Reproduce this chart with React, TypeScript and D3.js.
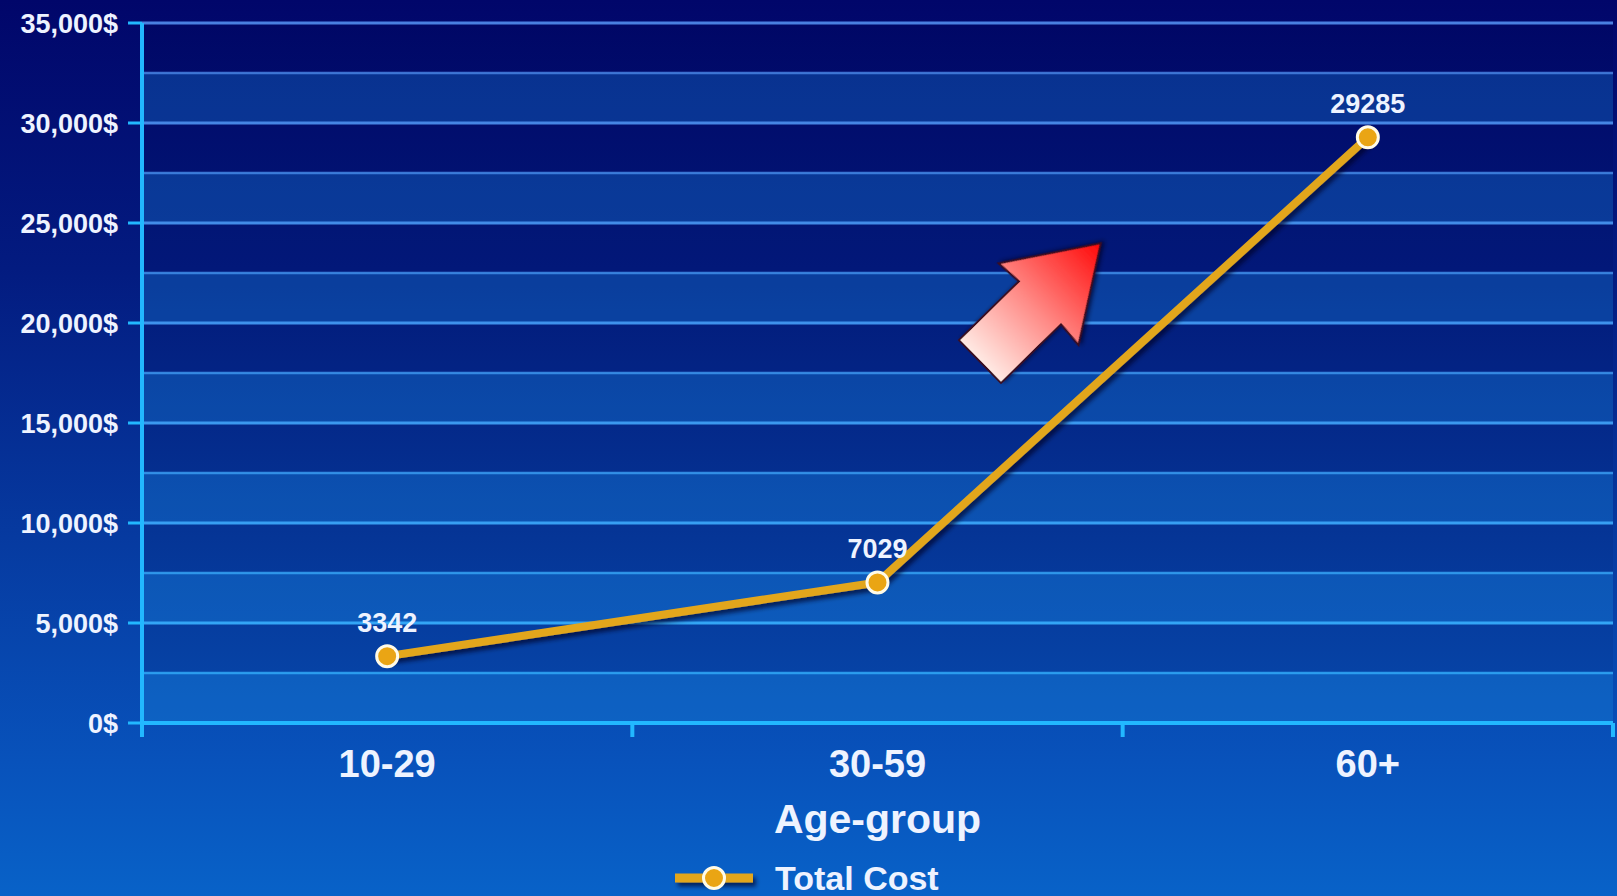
import React from "react";
import * as d3 from "d3";

const categories: string[] = ["10-29", "30-59", "60+"];
const totalCost: number[] = [3342, 7029, 29285];
const yTicks: number[] = [0, 5000, 10000, 15000, 20000, 25000, 30000, 35000];
const seriesName = "Total Cost";
const xTitle = "Age-group";

const W = 1617;
const H = 896;
const M = { left: 142, right: 1613, top: 23, bottom: 723 };
const FONT = "'Liberation Sans', Arial, Helvetica, sans-serif";

export default function App() {
  const x = d3.scaleBand<string>().domain(categories).range([M.left, M.right]).padding(0);
  const y = d3.scaleLinear().domain([0, 35000]).range([M.bottom, M.top]);
  const cx = (c: string) => (x(c) as number) + x.bandwidth() / 2;

  const minorTicks = d3.range(0, 35000 + 1, 2500);
  const bands = d3.range(0, 35000, 2500);

  const pts: [number, number][] = categories.map((c, i) => [cx(c), y(totalCost[i])]);
  const lineGen = d3.line<[number, number]>().x((d) => d[0]).y((d) => d[1]);

  const fmt = d3.format(",");
  const boundaries = [...categories.map((c) => x(c) as number), M.right];

  // decorative arrow (local shape pointing along +x)
  const arrowPath = "M0,-30 L84,-30 L82,-57 L169,0 L82,57 L84,30 L0,30 Z";
  const arrowAnchorX = x(categories[1])! + x.bandwidth() * 0.709;
  const arrowAnchorY = y(18075);

  const legendY = 878;
  const legendX0 = 675;
  const legendX1 = 753;

  return (
    <svg width={W} height={H} style={{ display: "block", position: "absolute", left: 0, top: 0 }}>
      <defs>
        <linearGradient id="bg" x1="0" y1="0" x2="0" y2={H} gradientUnits="userSpaceOnUse">
          <stop offset="0" stopColor="#01066a" />
          <stop offset="0.3" stopColor="#031b80" />
          <stop offset="0.6" stopColor="#063aa0" />
          <stop offset="0.85" stopColor="#0852bb" />
          <stop offset="1" stopColor="#0862c8" />
        </linearGradient>
        <linearGradient id="grid" x1="0" y1="0" x2="0" y2={H} gradientUnits="userSpaceOnUse">
          <stop offset="0" stopColor="#4a7ee0" />
          <stop offset="0.5" stopColor="#3a9af0" />
          <stop offset="1" stopColor="#28b8ff" />
        </linearGradient>
        <linearGradient id="arrowGrad" x1="0" y1="0" x2="1" y2="0">
          <stop offset="0" stopColor="#ffeae4" />
          <stop offset="0.45" stopColor="#ff8a86" />
          <stop offset="1" stopColor="#ff0808" />
        </linearGradient>
        <filter id="shadow" filterUnits="userSpaceOnUse" x={-W} y={-H} width={3 * W} height={3 * H}>
          <feDropShadow dx="3" dy="4" stdDeviation="2" floodColor="#000020" floodOpacity="0.65" />
        </filter>
        <filter id="arrowShadow" x="-30%" y="-30%" width="160%" height="160%">
          <feDropShadow dx="3" dy="1" stdDeviation="2" floodColor="#000020" floodOpacity="0.7" />
        </filter>
      </defs>

      <rect x={0} y={0} width={W} height={H} fill="url(#bg)" />

      {/* alternating bands */}
      {bands.map((v, i) => (
        <rect
          key={"b" + v}
          x={M.left}
          y={y(v + 2500)}
          width={M.right - M.left}
          height={y(v) - y(v + 2500)}
          fill={i % 2 === 0 ? "rgba(30,150,230,0.28)" : "rgba(0,0,40,0.08)"}
        />
      ))}

      {/* gridlines */}
      {minorTicks.map((v) => (
        <line
          key={"g" + v}
          x1={M.left}
          x2={M.right}
          y1={y(v)}
          y2={y(v)}
          stroke="url(#grid)"
          strokeWidth={v % 5000 === 0 ? 3 : 2.5}
          opacity={v % 5000 === 0 ? 1 : 0.85}
        />
      ))}

      {/* axes */}
      <line x1={M.left} x2={M.left} y1={M.top} y2={M.bottom + 14} stroke="#22b8ff" strokeWidth={4} />
      <line x1={M.left} x2={M.right} y1={M.bottom} y2={M.bottom} stroke="#22b8ff" strokeWidth={4} />
      {yTicks.map((v) => (
        <line key={"yt" + v} x1={M.left - 14} x2={M.left} y1={y(v)} y2={y(v)} stroke="#22b8ff" strokeWidth={3} />
      ))}
      {boundaries.map((bx, i) => (
        <line key={"xt" + i} x1={bx} x2={bx} y1={M.bottom} y2={M.bottom + 14} stroke="#22b8ff" strokeWidth={4} />
      ))}

      {/* y tick labels */}
      {yTicks.map((v) => (
        <text
          key={"yl" + v}
          x={118}
          y={y(v)}
          dy="0.36em"
          textAnchor="end"
          fill="#eef3ff"
          fontFamily={FONT}
          fontWeight="bold"
          fontSize={27}
        >
          {fmt(v) + "$"}
        </text>
      ))}

      {/* x tick labels */}
      {categories.map((c) => (
        <text
          key={"xl" + c}
          x={cx(c)}
          y={763}
          dy="0.36em"
          textAnchor="middle"
          fill="#eef3ff"
          fontFamily={FONT}
          fontWeight="bold"
          fontSize={38}
        >
          {c}
        </text>
      ))}

      <text
        x={(M.left + M.right) / 2}
        y={818}
        dy="0.36em"
        textAnchor="middle"
        fill="#eef3ff"
        fontFamily={FONT}
        fontWeight="bold"
        fontSize={41}
      >
        {xTitle}
      </text>

      {/* arrow */}
      <g transform={`translate(${arrowAnchorX},${arrowAnchorY}) rotate(-44.4)`}>
        <path d={arrowPath} fill="url(#arrowGrad)" stroke="#3a0a20" strokeWidth={2} strokeLinejoin="miter" filter="url(#arrowShadow)" />
      </g>

      {/* line series */}
      <path
        d={lineGen(pts) as string}
        fill="none"
        stroke="#e2a61f"
        strokeWidth={8}
        strokeLinejoin="round"
        filter="url(#shadow)"
      />
      {pts.map((p, i) => (
        <circle key={"m" + i} cx={p[0]} cy={p[1]} r={10.5} fill="#eaa514" stroke="#fffbe8" strokeWidth={3} />
      ))}
      {pts.map((p, i) => (
        <text
          key={"dl" + i}
          x={p[0]}
          y={p[1] - 34}
          dy="0.36em"
          textAnchor="middle"
          fill="#eef3ff"
          fontFamily={FONT}
          fontWeight="bold"
          fontSize={27}
        >
          {String(totalCost[i])}
        </text>
      ))}

      {/* legend */}
      <line x1={legendX0} x2={legendX1} y1={legendY} y2={legendY} stroke="#e2a61f" strokeWidth={9} filter="url(#shadow)" />
      <circle cx={(legendX0 + legendX1) / 2} cy={legendY} r={10.5} fill="#eaa514" stroke="#fffbe8" strokeWidth={3} />
      <text x={775} y={legendY} dy="0.36em" fill="#eef3ff" fontFamily={FONT} fontWeight="bold" fontSize={34}>
        {seriesName}
      </text>
    </svg>
  );
}
